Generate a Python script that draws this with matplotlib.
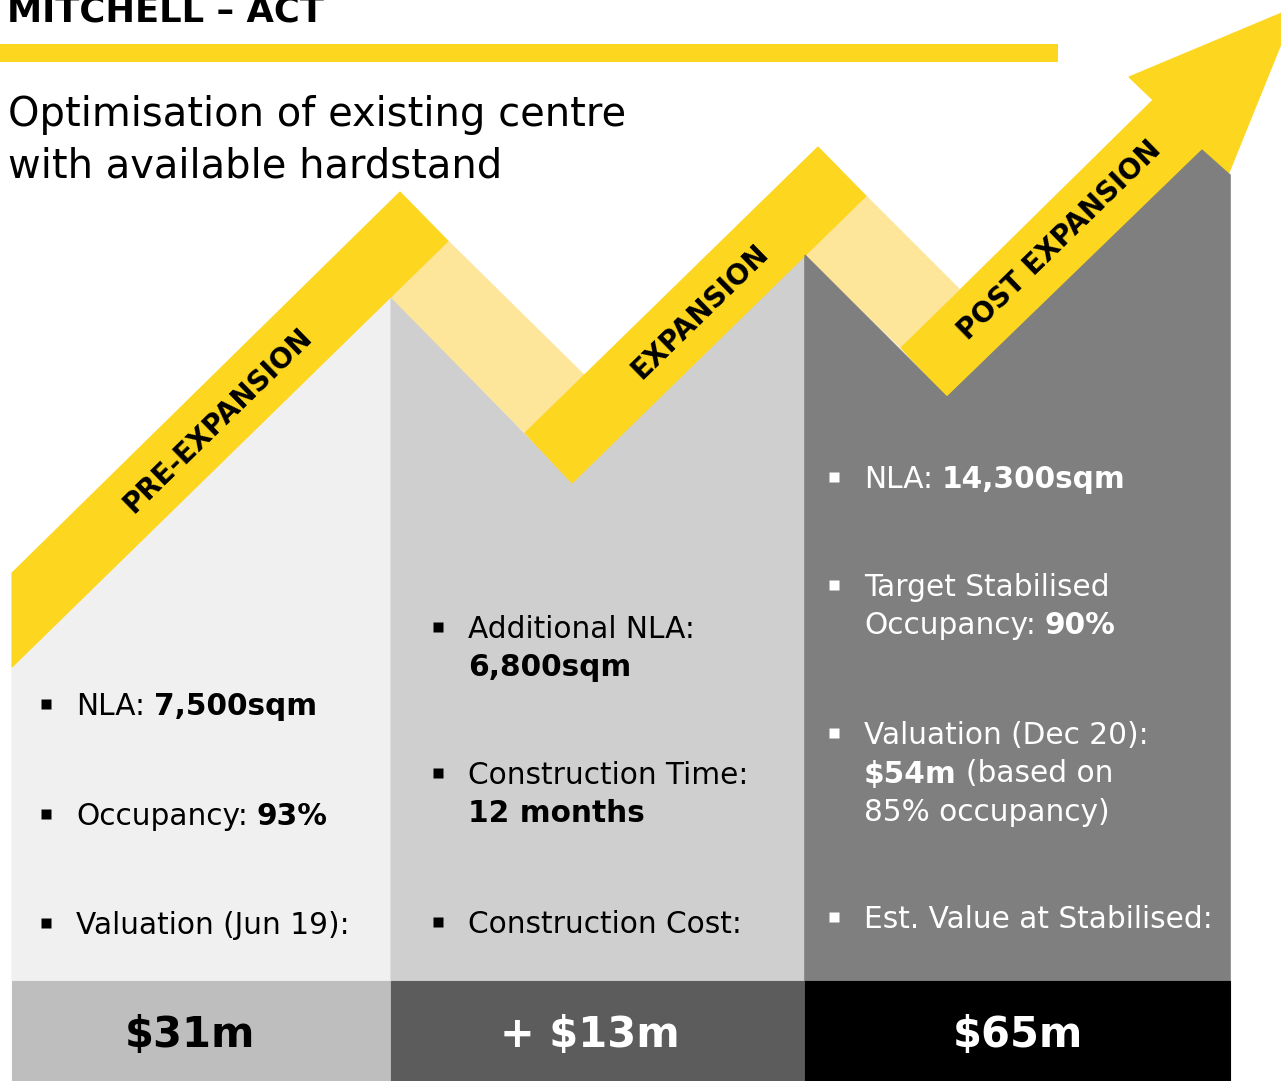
import matplotlib
matplotlib.use("Agg")
import matplotlib.pyplot as plt
from matplotlib.patches import Polygon, Rectangle

# ---------------- data ----------------
title = "MITCHELL \u2013 ACT"
subtitle = ["Optimisation of existing centre", "with available hardstand"]
stages = ["PRE-EXPANSION", "EXPANSION", "POST EXPANSION"]
values = ["$31m", "+ $13m", "$65m"]

pre_bullets = [
    [[("NLA:", False), ("7,500sqm", True)]],
    [[("Occupancy:", False), ("93%", True)]],
    [[("Valuation (Jun 19):", False)]],
]
exp_bullets = [
    [[("Additional NLA:", False)], [("6,800sqm", True)]],
    [[("Construction Time:", False)], [("12 months", True)]],
    [[("Construction Cost:", False)]],
]
post_bullets = [
    [[("NLA:", False), ("14,300sqm", True)]],
    [[("Target Stabilised", False)], [("Occupancy:", False), ("90%", True)]],
    [[("Valuation (Dec 20):", False)], [("$54m", True), ("(based on", False)],
     [("85% occupancy)", False)]],
    [[("Est. Value at Stabilised:", False)]],
]

# ---------------- style / layout ----------------
FONT = ["DejaVu Sans"]
YEL = "#FDD61F"
LYEL = "#FDE59A"
panel_cols = ["#F0F0F0", "#D0CFD0", "#7F7F7F"]
box_cols = ["#BEBEBE", "#5C5C5C", "#000000"]
val_cols = ["black", "white", "white"]
text_cols = ["black", "black", "white"]

W, H = 1281, 1081
fig = plt.figure(figsize=(W / 100, H / 100), dpi=100)
ax = fig.add_axes([0, 0, 1, 1])
ax.set_xlim(0, W)
ax.set_ylim(H, 0)
ax.axis("off")
renderer = fig.canvas.get_renderer()

# panel x bounds and bottom
xb = [12, 391, 805, 1230]
ybot, yend = 981, 1081


def shape(poly, c):
    ax.add_patch(Polygon(poly, closed=True, fc=c, ec=c, lw=0.8,
                         joinstyle="miter"))


# panels
p1 = [(xb[0], ybot), (xb[0], 667), (391, 297), (391, ybot)]
p2 = [(391, ybot), (391, 297), (572, 483), (805, 255), (805, ybot)]
p3 = [(805, ybot), (805, 255), (947, 397), (1202, 150), (1230, 175), (1230, ybot)]
for poly, c in zip([p1, p2, p3], panel_cols):
    shape(poly, c)

# zigzag bands
light1 = [(391, 297), (448, 241), (584, 375), (525, 433)]
light2 = [(805, 255), (866, 196), (959, 289), (901, 348)]
dark1 = [(12, 667), (12, 573), (400, 192), (448, 241)]
dark2 = [(572, 483), (525, 433), (818, 147), (866, 196)]
dark3 = [(947, 397), (901, 348), (1153, 100), (1129, 77), (1296, 7),
         (1228, 175), (1202, 150)]
for poly in [light1, light2]:
    shape(poly, LYEL)
for poly in [dark1, dark2, dark3]:
    shape(poly, YEL)
shape(p3, panel_cols[2])

# header
ax.add_patch(Rectangle((0, 44), 1058, 18, fc=YEL, ec="none"))
ax.text(7, 22, title, fontsize=25.5, fontweight="bold", family=FONT,
        color="black", va="baseline", ha="left")
for i, line in enumerate(subtitle):
    ax.text(8, 126 + i * 51, line, fontsize=28.8, family=FONT,
            color="black", va="baseline", ha="left")

# stage labels along the bands
angle = 44.3
label_pos = [(218, 420), (700, 312), (1060, 240)]
for lab, (x, y) in zip(stages, label_pos):
    ax.text(x, y, lab, fontsize=20, fontweight="bold", family=FONT,
            color="black", rotation=angle, rotation_mode="anchor",
            ha="center", va="center")

# bottom value boxes
for i in range(3):
    ax.add_patch(Rectangle((xb[i], ybot), xb[i + 1] - xb[i], yend - ybot,
                           fc=box_cols[i], ec=box_cols[i], lw=0.8))
val_x = [190, 590, 1018]
for v, x, c in zip(values, val_x, val_cols):
    ax.text(x, 1047, v, fontsize=30, fontweight="bold", family=FONT,
            color=c, ha="center", va="baseline")

# bullets
FS = 21.3
SPACE = 9


def rich_line(x, y, segs, color):
    for txt, bold in segs:
        t = ax.text(x, y, txt, fontsize=FS, family=FONT,
                    fontweight="bold" if bold else "normal",
                    color=color, va="baseline", ha="left")
        bb = t.get_window_extent(renderer)
        x += bb.width + SPACE


def bullet_block(bullets, bx, tx, baselines, color, lh=38.5):
    for items, y0 in zip(bullets, baselines):
        ax.plot([bx], [y0 - 11], marker="s", ms=7, color=color, mec="none")
        for j, segs in enumerate(items):
            rich_line(tx, y0 + j * lh, segs, color)


bullet_block(pre_bullets, 46, 76, [715, 825, 934], text_cols[0])
bullet_block(exp_bullets, 438, 468, [638, 784, 933], text_cols[1])
bullet_block(post_bullets, 834, 864, [488, 596, 744, 928], text_cols[2])

fig.savefig("out.png", dpi=100)
